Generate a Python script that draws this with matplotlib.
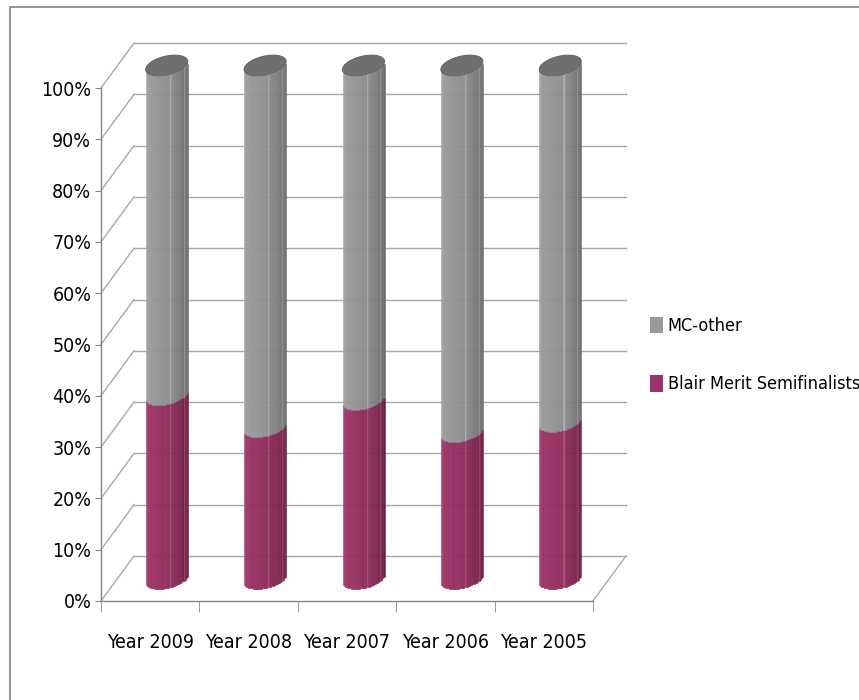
import numpy as np
import matplotlib
matplotlib.use("Agg")
import matplotlib.pyplot as plt
import matplotlib.transforms as mtransforms
from matplotlib.patches import Polygon, Patch, Rectangle
from matplotlib.lines import Line2D

plt.rcParams['font.family'] = ['Liberation Sans Narrow', 'DejaVu Sans']
plt.rcParams['font.stretch'] = 'condensed'

# data (100% stacked)
categories = ['Year 2009', 'Year 2008', 'Year 2007', 'Year 2006', 'Year 2005']
blair = [35.8, 29.6, 34.9, 28.6, 30.6]
mc_other = [64.2, 70.4, 65.1, 71.4, 69.4]
series_names = ['MC-other', 'Blair Merit Semifinalists']
yticks = list(range(0, 101, 10))

W, H = 859, 700
fig = plt.figure(figsize=(W / 100, H / 100), dpi=100)
# front plane of the 3d box
ax = fig.add_axes([101 / W, (H - 601) / H, 492 / W, 513 / H])
ax.set_xlim(-0.5, 4.5)
ax.set_ylim(0, 100)

DEPTH = (33, 45)          # pixel offset of back wall
MID = (16.5, 22.5)        # cylinders stand half way in
BAR_PX = 42
bar_w = BAR_PX / (492 / 5)
GRID = '#a8a8a8'
AXC = '#868686'


def px(dx, dy):
    return mtransforms.ScaledTranslation(dx / fig.dpi, dy / fig.dpi, fig.dpi_scale_trans)


def at(x, y):
    return mtransforms.Affine2D() + mtransforms.ScaledTranslation(x, y, ax.transData)


# back wall gridlines + left side wall diagonals
for v in yticks:
    ax.plot([-0.5, 4.5], [v, v], color=GRID, lw=1, transform=ax.transData + px(*DEPTH),
            clip_on=False, zorder=0.5)
    ax.add_line(Line2D([0, DEPTH[0]], [0, DEPTH[1]], color=GRID, lw=1,
                       transform=at(-0.5, v), clip_on=False, zorder=0.5))
ax.add_line(Line2D([0, DEPTH[0]], [0, DEPTH[1]], color=GRID, lw=1,
                   transform=at(4.5, 0), clip_on=False, zorder=0.5))


def mix(stops, u):
    us = [s[0] for s in stops]
    cols = np.array([matplotlib.colors.to_rgb(s[1]) for s in stops])
    return tuple(np.interp(u, us, cols[:, j]) for j in range(3))


mag_stops = [(-1, '#a9416f'), (-0.85, '#9c3265'), (0.15, '#8d2b5c'), (1, '#6e1f46')]
gray_stops = [(-1, '#a6a6a6'), (-0.85, '#9a9a9a'), (0.15, '#8d8d8d'), (1, '#6c6c6c')]
facets = [0.2, 0.4, 0.6, 0.8]

# cylinders drawn as thin vertical strips that follow the front arc
N = 40
x = np.arange(len(categories))
for k in range(N):
    u = -1 + (2 * k + 1) / N
    drop = -4 * u + 9.5 * np.sqrt(1 - u * u)
    tr = ax.transData + px(MID[0], MID[1] - drop)
    xs = x + u * bar_w / 2
    cm = mix(mag_stops, u)
    cg = mix(gray_stops, u)
    if any(abs(u - f) < 1.0 / N for f in facets):
        cm = tuple(min(1, c + 0.12) for c in cm)
        cg = tuple(min(1, c + 0.12) for c in cg)
    ax.bar(xs, blair, width=bar_w / N, bottom=0, color=cm, ec=cm, lw=0.4,
           transform=tr, clip_on=False, zorder=2)
    ax.bar(xs, mc_other, width=bar_w / N, bottom=blair, color=cg, ec=cg, lw=0.4,
           transform=tr, clip_on=False, zorder=2)

# top caps
th = np.linspace(0, 2 * np.pi, 80)
hw = BAR_PX / 2
cap = np.c_[hw * np.cos(th) + MID[0], 4 * np.cos(th) - 9.5 * np.sin(th) + MID[1]]
for i in x:
    ax.add_patch(Polygon(cap, closed=True, fc='#6f6f6f', ec='#666666', lw=0.8,
                         transform=at(i, blair[i] + mc_other[i]), clip_on=False, zorder=3))

# axes
for s in ['top', 'right']:
    ax.spines[s].set_visible(False)
for s in ['left', 'bottom']:
    ax.spines[s].set_color(AXC)
    ax.spines[s].set_linewidth(1)
ax.set_yticks(yticks)
ax.set_yticklabels([f'{v}%' for v in yticks], fontsize=14)
ax.tick_params(axis='y', length=4, color=AXC, pad=3)
ax.set_xticks(x)
ax.set_xticklabels(categories, fontsize=14)
ax.tick_params(axis='x', which='major', length=0, pad=23)
ax.set_xticks(np.arange(-0.5, 5, 1), minor=True)
ax.tick_params(axis='x', which='minor', length=8, color=AXC)
ax.set_facecolor('none')

fig.legend(handles=[Patch(fc='#999999'), Patch(fc='#9b3264')], labels=series_names,
           loc='center left', bbox_to_anchor=(650 / W, 1 - 355 / H), frameon=False,
           borderpad=0, borderaxespad=0, handlelength=0.72, handleheight=1.05,
           handletextpad=0.25, labelspacing=2.2, fontsize=13)

# chart area border
fig.patches.append(Rectangle((9.5 / W, -0.05), 1.2, 1.05 - 7.5 / H, transform=fig.transFigure,
                             fill=False, ec='#8c8c8c', lw=1.3))

fig.savefig('out.png', dpi=100)
